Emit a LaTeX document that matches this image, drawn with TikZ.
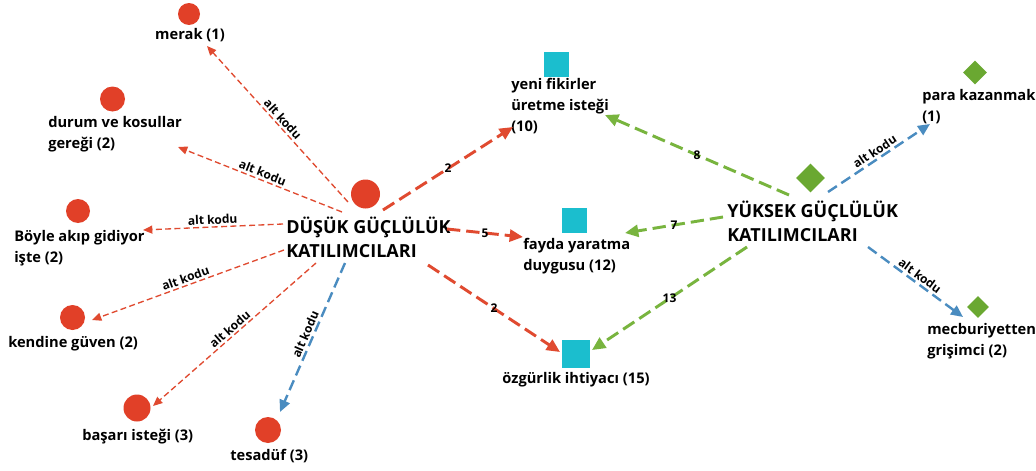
\documentclass[tikz,border=0pt]{standalone}
\usepackage{fontspec}
\setmainfont{Open Sans}
\usetikzlibrary{arrows.meta,calc,shapes.geometric}
\definecolor{cred}{RGB}{225,64,40}
\definecolor{lred}{RGB}{224,74,48}
\definecolor{cteal}{RGB}{27,190,206}
\definecolor{cgreen}{RGB}{106,168,49}
\definecolor{lgreen}{RGB}{120,180,62}
\definecolor{lblue}{RGB}{74,140,192}
\tikzset{
  circ/.style={circle,fill=cred,draw=none,inner sep=0pt},
  sq/.style={rectangle,fill=cteal,draw=none,inner sep=0pt},
  dia/.style={diamond,aspect=1,fill=cgreen,draw=none,inner sep=0pt},
  lbl/.style={inner sep=0pt,align=left,anchor=base west,font=\fontsize{11}{15.5}\selectfont\bfseries},
  ttl/.style={inner sep=0pt,align=left,anchor=base west,font=\fontsize{13.5}{18}\selectfont\bfseries},
  altedge/.style={draw=lred,line width=1pt,dash pattern=on 4.5pt off 2.5pt,-{Triangle[length=7pt,width=6pt]}},
  redmain/.style={draw=lred,line width=2.2pt,dash pattern=on 10pt off 4.5pt,-{Triangle[length=10pt,width=9pt]}},
  greenmain/.style={draw=lgreen,line width=2.2pt,dash pattern=on 10pt off 4.5pt,-{Triangle[length=10pt,width=9pt]}},
  bluemain/.style={draw=lblue,line width=1.8pt,dash pattern=on 8pt off 4pt,-{Triangle[length=9pt,width=8pt]}},
  altlbl/.style={sloped,above,inner sep=1.5pt,pos=0.5,font=\fontsize{9}{10}\selectfont\bfseries,text=black},
  numlbl/.style={inner sep=0.5pt,pos=0.5,font=\fontsize{9}{10}\selectfont\bfseries,text=black}
}
\begin{document}
\begin{tikzpicture}[x=0.75pt,y=-0.75pt]
\path[use as bounding box,fill=white] (0,0) rectangle (1036,471);
% red circles
\node[circ,minimum size=16.5pt] (cMerak) at (189,14) {};
\node[circ,minimum size=18.75pt] (cDurum) at (112.5,99) {};
\node[circ,minimum size=18pt] (cBoyle) at (78,211) {};
\node[circ,minimum size=18.75pt] (cKendine) at (72.5,317.5) {};
\node[circ,minimum size=20.25pt] (cBasari) at (137,408) {};
\node[circ,minimum size=19.5pt] (cTesaduf) at (268,430) {};
\node[circ,minimum size=21.75pt] (cDusuk) at (365.5,194) {};
% teal squares
\node[sq,minimum size=18.75pt] (sYeni) at (556,64.5) {};
\node[sq,minimum size=18.75pt] (sFayda) at (574.5,220.5) {};
\node[sq,minimum size=21pt] (sOzgur) at (576,353.5) {};
% green diamonds
\node[dia,minimum size=21.75pt] (dYuksek) at (810.5,178) {};
\node[dia,minimum size=18pt] (dPara) at (975,72.5) {};
\node[dia,minimum size=16.5pt] (dMecbur) at (978,307) {};
% labels (base = baseline of last line)
\node[lbl,anchor=base] (lMerak) at (190,40) {merak (1)};
\node[lbl] (lDurum) at (48,148) {durum ve kosullar\\gereği (2)};
\node[lbl] (lBoyle) at (14,262) {Böyle akıp gidiyor\\işte (2)};
\node[lbl] (lKendine) at (8,347) {kendine güven (2)};
\node[lbl] (lBasari) at (82,440) {başarı isteği (3)};
\node[lbl] (lTesaduf) at (230,460) {tesadüf (3)};
\node[ttl] (lDusuk) at (286,257) {DÜŞÜK GÜÇLÜLÜK\\KATILIMCILARI};
\node[lbl] (lYeni) at (511,131) {yeni fikirler\\üretme isteği\\(10)};
\node[lbl] (lFayda) at (523,270) {fayda yaratma\\duygusu (12)};
\node[lbl] (lOzgur) at (502,383) {özgürlik ihtiyacı (15)};
\node[ttl] (lYuksek) at (727,241) {YÜKSEK GÜÇLÜLÜK\\KATILIMCILARI};
\node[lbl] (lPara) at (922,121) {para kazanmak\\(1)};
\node[lbl] (lMecbur) at (927,355) {mecburiyetten\\grişimci (2)};
% DÜŞÜK sub-code edges
\draw[altedge] ($(lDusuk.base west)+(62,-55)$) -- node[altlbl]{alt kodu} ($(lMerak.base)+(17,6)$);
\draw[altedge] ($(lDusuk.base west)+(56,-45)$) -- node[altlbl]{alt kodu} ($(lDurum.base west)+(130,-1)$);
\draw[altedge] ($(lDusuk.base west)+(-3,-33)$) -- node[altlbl]{alt kodu} ($(lBoyle.base west)+(129,-32)$);
\draw[altedge] ($(lDusuk.base west)+(-2,-7)$) -- node[altlbl]{alt kodu} ($(cKendine)+(19.5,2.5)$);
\draw[altedge] ($(lDusuk.base west)+(30,6)$) -- node[altlbl]{alt kodu} ($(cBasari)+(16,-2)$);
\draw[bluemain] ($(lDusuk.base west)+(59,6)$) -- node[altlbl]{alt kodu} ($(cTesaduf)+(12,-18)$);
% DÜŞÜK main edges
\draw[redmain] ($(lDusuk.base west)+(97,-47)$) -- node[numlbl]{2} ($(lYeni.base west)+(2,-4)$);
\draw[redmain] ($(lDusuk.base west)+(161,-28)$) -- node[numlbl]{5} ($(lFayda.base west)+(0,-33)$);
\draw[redmain] ($(lDusuk.base west)+(142,8)$) -- node[numlbl]{2} ($(sOzgur)+(-16,-1.5)$);
% YÜKSEK main edges
\draw[greenmain] ($(lYuksek.base west)+(62,-46)$) -- node[numlbl]{8} ($(lYeni.base west)+(94,-16)$);
\draw[greenmain] ($(lYuksek.base west)+(-4,-24)$) -- node[numlbl]{7} ($(lFayda.base west)+(102,-37)$);
\draw[greenmain] ($(lYuksek.base west)+(20,6)$) -- node[numlbl]{13} ($(sOzgur)+(16,-3.5)$);
% YÜKSEK sub-code edges
\draw[bluemain] ($(lYuksek.base west)+(101,-49)$) -- node[altlbl]{alt kodu} ($(lPara.base west)+(8,3)$);
\draw[bluemain] ($(lYuksek.base west)+(141,6)$) -- node[altlbl]{alt kodu} ($(dMecbur)+(-15,10)$);
\end{tikzpicture}
\end{document}
